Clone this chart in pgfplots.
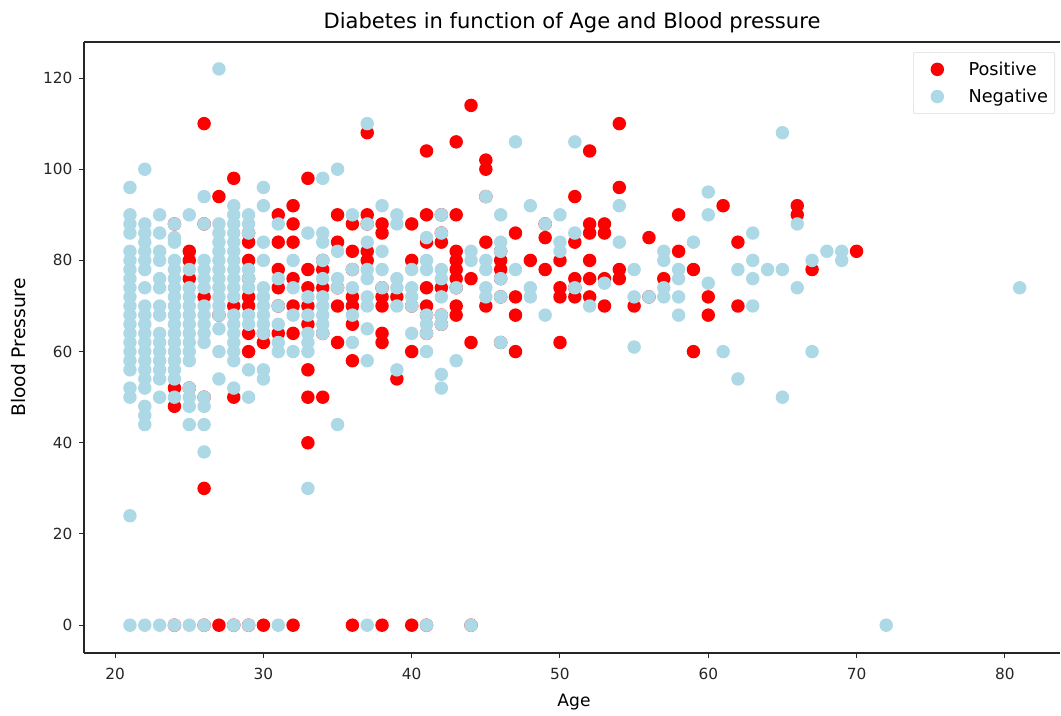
\documentclass[border=0pt]{standalone}
\usepackage{pgfplots}
\pgfplotsset{compat=1.18}
\usepackage{fontspec}
\setmainfont{DejaVu Sans}
\definecolor{lb}{HTML}{ADD8E6}
\begin{document}
\begin{tikzpicture}
\useasboundingbox (-63pt,-46.5pt) rectangle (732.75pt,489.75pt);
\begin{axis}[
  scale only axis, width=732pt, height=458.25pt,
  xmin=17.9, xmax=83.72, ymin=-6.1, ymax=127.9,
  axis x line*=bottom, axis y line*=left,
  axis line style={-, line width=0.85pt, black!85},
  xtick={20,30,40,50,60,70,80}, ytick={0,20,40,60,80,100,120},
  tick style={black!85, line width=0.75pt},
  major tick length=3.7pt,
  tick align=outside,
  tick label style={font=\fontsize{11.5}{13}\selectfont, text=black!85},
  xticklabel style={yshift=-4pt},
  yticklabel style={xshift=-1.5pt},
  /pgf/number format/assume math mode=true,
  xlabel={Age}, ylabel={Blood Pressure},
  xlabel style={font=\fontsize{12.8}{14}\selectfont, at={(axis description cs:0.5,0)}, anchor=north, yshift=-27.5pt, xshift=1.5pt},
  ylabel style={font=\fontsize{14}{15}\selectfont, at={(axis description cs:0,0.5)}, anchor=south, yshift=40.5pt},
  title={Diabetes in function of Age and Blood pressure},
  title style={font=\fontsize{15.8}{17}\selectfont, at={(axis description cs:0.5,1)}, anchor=south, yshift=-3pt},
  legend style={at={(0.9949,0.9836)}, anchor=north east, draw=black!15, rounded corners=1.5pt,
    font=\fontsize{13.3}{14}\selectfont, inner xsep=3pt, inner ysep=5pt, row sep=4.8pt},
  legend image code/.code={\path (0cm,0cm) (1.265cm,0cm); \draw[#1] plot coordinates {(0.52cm,0cm)};},
  legend cell align=left,
  clip=false,
]
\addplot[only marks, mark=*, mark size=5.05pt, mark options={fill=red, draw opacity=0}] coordinates {
(24,88)(24,52)(24,48)(24,0)
(25,82)(25,80)(25,76)(25,52)
(26,110)(26,88)(26,72)(26,50)(26,30)(26,0)
(27,94)(27,68)(27,0)
(28,98)(28,70)(28,50)(28,0)
(29,86)(29,84)(29,80)(29,76)(29,72)(29,70)(29,64)(29,60)(29,0)
(30,62)(30,64)(30,0)
(31,90)(31,84)(31,78)(31,74)(31,70)(31,64)
(32,92)(32,88)(32,84)(32,76)(32,70)(32,64)(32,0)
(33,98)(33,78)(33,74)(33,70)(33,66)(33,56)(33,50)(33,40)
(34,80)(34,78)(34,74)(34,64)(34,50)
(35,90)(35,84)(35,74)(35,70)(35,62)
(36,88)(36,82)(36,78)(36,72)(36,70)(36,66)(36,58)(36,0)
(37,108)(37,90)(37,88)(37,82)(37,80)
(38,88)(38,86)(38,74)(38,72)(38,70)(38,64)(38,62)(38,0)
(39,72)(39,54)
(40,88)(40,80)(40,70)(40,60)(40,0)
(41,104)(41,90)(41,84)(41,74)(41,70)(41,68)(41,64)(41,0)
(42,90)(42,86)(42,84)(42,74)(42,68)(42,66)
(43,106)(43,90)(43,82)(43,80)(43,78)(43,76)(43,74)(43,70)(43,68)
(44,114)(44,76)(44,62)(44,0)
(45,102)(45,100)(45,94)(45,84)(45,70)
(46,82)(46,80)(46,78)(46,76)(46,72)(46,62)
(47,86)(47,72)(47,68)(47,60)
(48,80)
(49,88)(49,85)(49,78)
(50,80)(50,74)(50,72)(50,62)
(51,94)(51,84)(51,76)(51,74)(51,72)
(52,104)(52,88)(52,86)(52,80)(52,76)(52,72)
(53,88)(53,86)(53,76)(53,70)
(54,110)(54,96)(54,78)(54,76)
(55,70)
(56,85)(56,72)
(57,76)
(58,90)(58,82)
(59,78)(59,60)
(60,72)(60,68)
(61,92)
(62,84)(62,70)
(66,92)(66,90)
(67,78)
(70,82)
};
\addlegendentry{Positive}
\addplot[only marks, mark=*, mark size=5.05pt, mark options={fill=lb, draw opacity=0}] coordinates {
(21,0)(21,24)(21,50)(21,52)(21,56)(21,58)(21,60)(21,62)(21,64)(21,66)(21,68)(21,70)(21,72)(21,74)(21,76)(21,78)(21,80)(21,82)(21,86)(21,88)(21,90)(21,96)
(22,0)(22,44)(22,46)(22,48)(22,52)(22,54)(22,56)(22,58)(22,60)(22,62)(22,64)(22,66)(22,68)(22,70)(22,74)(22,78)(22,80)(22,82)(22,84)(22,86)(22,88)(22,100)
(23,0)(23,50)(23,54)(23,56)(23,58)(23,60)(23,62)(23,64)(23,68)(23,70)(23,74)(23,76)(23,80)(23,82)(23,86)(23,90)
(24,0)(24,50)(24,54)(24,56)(24,58)(24,60)(24,62)(24,64)(24,66)(24,68)(24,70)(24,72)(24,74)(24,76)(24,78)(24,80)(24,84)(24,85)(24,88)
(25,0)(25,44)(25,48)(25,50)(25,52)(25,58)(25,60)(25,62)(25,64)(25,66)(25,68)(25,70)(25,72)(25,74)(25,78)(25,90)
(26,0)(26,38)(26,44)(26,48)(26,50)(26,62)(26,64)(26,66)(26,68)(26,70)(26,74)(26,76)(26,78)(26,80)(26,88)(26,94)
(27,54)(27,60)(27,65)(27,68)(27,70)(27,72)(27,74)(27,76)(27,78)(27,80)(27,82)(27,84)(27,86)(27,88)(27,122)
(28,0)(28,52)(28,58)(28,60)(28,62)(28,64)(28,66)(28,68)(28,72)(28,74)(28,76)(28,78)(28,80)(28,82)(28,84)(28,86)(28,88)(28,90)(28,92)
(29,0)(29,50)(29,56)(29,66)(29,68)(29,74)(29,76)(29,78)(29,86)(29,88)(29,90)
(30,54)(30,56)(30,64)(30,66)(30,68)(30,70)(30,72)(30,74)(30,80)(30,84)(30,92)(30,96)
(31,0)(31,60)(31,62)(31,66)(31,70)(31,76)(31,88)
(32,60)(32,68)(32,74)(32,80)
(33,30)(33,60)(33,62)(33,64)(33,68)(33,72)(33,86)
(34,64)(34,66)(34,68)(34,70)(34,72)(34,76)(34,80)(34,84)(34,86)(34,98)
(35,44)(35,74)(35,76)(35,82)(35,100)
(36,62)(36,68)(36,74)(36,78)(36,90)
(37,0)(37,58)(37,65)(37,70)(37,72)(37,76)(37,78)(37,84)(37,88)(37,110)
(38,74)(38,78)(38,82)(38,92)
(39,56)(39,70)(39,74)(39,76)(39,88)(39,90)
(40,64)(40,70)(40,72)(40,74)(40,78)
(41,0)(41,60)(41,64)(41,66)(41,68)(41,78)(41,80)(41,85)
(42,52)(42,55)(42,66)(42,68)(42,72)(42,76)(42,78)(42,86)(42,90)
(43,58)(43,74)
(44,0)(44,80)(44,82)
(45,72)(45,74)(45,78)(45,80)(45,94)
(46,62)(46,72)(46,76)(46,82)(46,84)(46,90)
(47,78)(47,106)
(48,72)(48,74)(48,92)
(49,68)(49,88)
(50,82)(50,84)(50,90)
(51,74)(51,86)(51,106)
(52,70)
(53,75)
(54,84)(54,92)
(55,61)(55,72)(55,78)
(56,72)
(57,72)(57,74)(57,80)(57,82)
(58,68)(58,72)(58,76)(58,78)
(59,84)
(60,75)(60,90)(60,95)
(61,60)
(62,54)(62,78)
(63,70)(63,76)(63,80)(63,86)
(64,78)
(65,50)(65,78)(65,108)
(66,74)(66,88)
(67,60)(67,80)
(68,82)
(69,80)(69,82)
(72,0)
(81,74)
};
\addlegendentry{Negative}
\draw[line width=0.85pt, black!85] (rel axis cs:0,1) -- (rel axis cs:1,1);
\end{axis}
\end{tikzpicture}
\end{document}
